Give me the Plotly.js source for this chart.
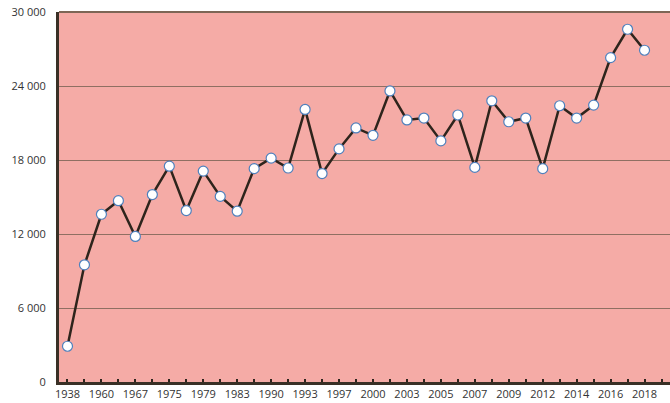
<!DOCTYPE html>
<html>
<head>
<meta charset="utf-8">
<script src="https://cdn.plot.ly/plotly-3.0.1.min.js"></script>
<style>html,body{margin:0;padding:0;background:#fff}#chart{width:670px;height:403px}</style>
</head>
<body>
<div id="chart"></div>
<script>
// Category years (every other one is labelled on the axis)
const years = ["1938","1950","1960","1963","1967","1970","1975","1977","1979","1981",
               "1983","1986","1990","1991","1993","1995","1997","1998","2000","2001",
               "2003","2004","2005","2006","2007","2008","2009","2010","2012","2013",
               "2014","2015","2016","2017","2018"];
const values = [2900, 9500, 13600, 14700, 11800, 15200, 17500, 13900, 17100, 15050,
                13850, 17300, 18150, 17350, 22100, 16900, 18900, 20600, 20000, 23600,
                21250, 21400, 19550, 21650, 17400, 22800, 21100, 21400, 17300, 22400,
                21400, 22450, 26300, 28600, 26900];
const yTicks = [0, 6000, 12000, 18000, 24000, 30000];

const idx = years.map((_, i) => i);
const tickvals = idx.concat([years.length]);
const ticktext = years.map((y, i) => (i % 2 === 0 ? y : "")).concat([""]);

const trace = {
  x: idx,
  y: values,
  type: "scatter",
  mode: "lines+markers",
  line: {color: "#2e241c", width: 2.5},
  marker: {size: 10, color: "#ffffff", line: {color: "#4f81bd", width: 1.2}},
  hoverinfo: "skip"
};

const layout = {
  width: 670, height: 403,
  margin: {l: 59, r: 0, t: 12, b: 21},
  paper_bgcolor: "#ffffff",
  plot_bgcolor: "#f5aba6",
  separators: ". ",
  showlegend: false,
  font: {family: "Open Sans, Liberation Sans, sans-serif", size: 11, color: "#333333"},
  xaxis: {
    type: "linear",
    range: [-0.5, 35.5],
    tickmode: "array",
    tickvals: tickvals,
    ticktext: ticktext,
    ticks: "inside",
    ticklen: 3,
    tickwidth: 2,
    tickcolor: "#2e241c",
    showgrid: false,
    zeroline: false,
    showline: true,
    linecolor: "#3a3026",
    linewidth: 2.5,
    tickfont: {size: 11, color: "#333333"},
    fixedrange: true
  },
  yaxis: {
    range: [0, 30000],
    tickmode: "array",
    tickvals: yTicks,
    tickformat: ",d",
    ticks: "",
    showgrid: true,
    gridcolor: "#8f6f62",
    gridwidth: 1,
    zeroline: false,
    showline: true,
    linecolor: "#3a3026",
    linewidth: 3,
    ticklabelstandoff: 8,
    tickfont: {size: 11, color: "#333333"},
    fixedrange: true
  },
  shapes: [{
    type: "line", xref: "paper", yref: "paper",
    x0: 0, x1: 1, y0: 1, y1: 1,
    line: {color: "#7d6656", width: 2}
  }]
};

Plotly.newPlot("chart", [trace], layout, {displayModeBar: false, staticPlot: true});
</script>
</body>
</html>
